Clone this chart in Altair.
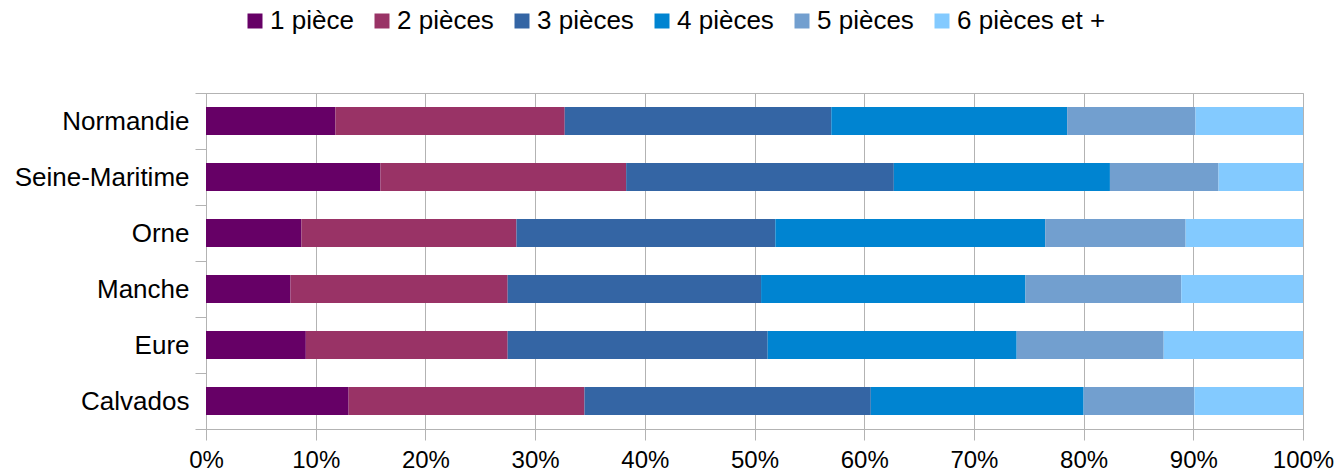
import altair as alt
import pandas as pd

# Regions, top to bottom
regions = ["Normandie", "Seine-Maritime", "Orne", "Manche", "Eure", "Calvados"]

# Dwelling size classes and their colours
room_classes = ["1 pièce", "2 pièces", "3 pièces", "4 pièces", "5 pièces", "6 pièces et +"]
palette = ["#660066", "#993366", "#3465a4", "#0084d1", "#729fcf", "#83caff"]

# Share of dwellings (%) per size class, listed in region order
share_1 = [11.8, 15.9, 8.7, 7.7, 9.1, 13.0]
share_2 = [20.9, 22.4, 19.6, 19.8, 18.4, 21.5]
share_3 = [24.3, 24.4, 23.6, 23.1, 23.7, 26.1]
share_4 = [21.5, 19.7, 24.6, 24.1, 22.7, 19.4]
share_5 = [11.7, 9.9, 12.8, 14.2, 13.4, 10.1]
share_6 = [9.8, 7.7, 10.7, 11.1, 12.7, 9.9]

x_ticks = [0.0, 0.1, 0.2, 0.3, 0.4, 0.5, 0.6, 0.7, 0.8, 0.9, 1.0]

series = [share_1, share_2, share_3, share_4, share_5, share_6]
rows = []
for k, (label, values) in enumerate(zip(room_classes, series)):
    for region, v in zip(regions, values):
        rows.append({"region": region, "rooms": label, "rank": k, "share": v})
df = pd.DataFrame(rows)

FONT = "Liberation Sans"
GRID = "#b3b3b3"

chart = (
    alt.Chart(df)
    .mark_bar(size=28)
    .encode(
        x=alt.X(
            "share:Q",
            stack="normalize",
            scale=alt.Scale(domain=[0, 1], nice=False),
            axis=alt.Axis(
                title=None,
                values=x_ticks,
                format=".0%",
                grid=True,
                gridColor=GRID,
                domainColor=GRID,
                tickColor=GRID,
                tickSize=11,
                labelFlush=False,
                labelFontSize=24,
                labelPadding=8,
                labelFont=FONT,
                labelColor="#000000",
            ),
        ),
        y=alt.Y(
            "region:N",
            sort=regions,
            scale=alt.Scale(paddingInner=0, paddingOuter=0),
            axis=alt.Axis(
                title=None,
                tickBand="extent",
                domainColor=GRID,
                tickColor=GRID,
                tickSize=11,
                labelFontSize=26,
                labelPadding=6,
                labelFont=FONT,
                labelColor="#000000",
                grid=False,
            ),
        ),
        color=alt.Color(
            "rooms:N",
            scale=alt.Scale(domain=room_classes, range=palette),
            legend=alt.Legend(
                title=None,
                orient="none",
                legendX=36,
                legendY=-85,
                direction="horizontal",
                columns=6,
                symbolType="square",
                symbolSize=225,
                symbolStrokeWidth=0,
                symbolOpacity=1,
                labelFontSize=26,
                labelFont=FONT,
                labelColor="#000000",
                labelOffset=2,
                columnPadding=15,
                labelLimit=300,
            ),
        ),
        order=alt.Order("rank:Q"),
    )
    .properties(
        width=1097,
        height=336,
        autosize="none",
        padding={"left": 206, "top": 93, "right": 36, "bottom": 46},
        background="#ffffff",
    )
    .configure_view(stroke=GRID, strokeWidth=1)
)

chart.save("out.html", embed_options={"renderer": "svg", "actions": False})
